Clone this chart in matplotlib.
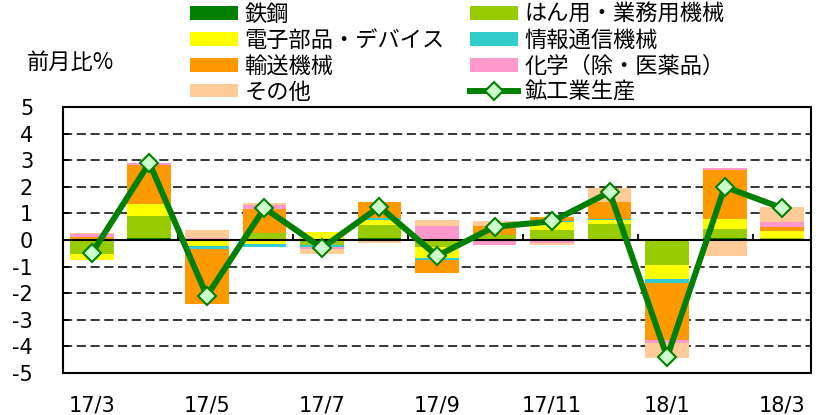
import matplotlib.pyplot as plt
import numpy as np
from matplotlib.patches import Patch
from matplotlib.lines import Line2D

plt.rcParams['font.family'] = ['Noto Sans CJK JP', 'DejaVu Sans']
plt.rcParams['axes.unicode_minus'] = False

# 月（17/3〜18/3）
months = ['17/3', '17/4', '17/5', '17/6', '17/7', '17/8', '17/9',
          '17/10', '17/11', '17/12', '18/1', '18/2', '18/3']

# 業種別寄与度（前月比%）
tekko = [0.00, 0.07, 0.00, 0.05, 0.00, 0.08, 0.00, 0.00, 0.00, 0.03, 0.00, 0.08, 0.00]
hanyo = [-0.51, 0.84, -0.03, 0.20, -0.20, 0.48, -0.25, 0.19, 0.38, 0.56, -0.95, 0.35, 0.09]
denshi = [-0.25, 0.45, -0.18, -0.15, 0.31, 0.18, -0.41, 0.00, 0.30, 0.15, -0.50, 0.37, 0.25]
joho = [0.05, 0.00, -0.14, -0.10, -0.05, 0.07, -0.09, 0.00, 0.05, 0.06, -0.15, 0.00, 0.00]
yuso = [0.06, 1.47, -2.06, 0.90, 0.00, 0.63, -0.50, 0.34, 0.13, 0.63, -2.17, 1.82, 0.13]
kagaku = [0.10, 0.08, 0.08, 0.18, -0.08, 0.00, 0.53, -0.19, -0.10, 0.00, -0.09, 0.10, 0.21]
sonota = [0.04, 0.00, 0.28, 0.05, -0.20, -0.10, 0.21, 0.19, -0.09, 0.51, -0.56, -0.60, 0.56]

# 鉱工業生産（前月比%）
kokogyo = [-0.5, 2.9, -2.1, 1.2, -0.3, 1.25, -0.6, 0.5, 0.7, 1.8, -4.4, 2.0, 1.2]

series = [
    ('鉄鋼', tekko, '#008000'),
    ('はん用・業務用機械', hanyo, '#99CC00'),
    ('電子部品・デバイス', denshi, '#FFFF00'),
    ('情報通信機械', joho, '#33CCCC'),
    ('輸送機械', yuso, '#FF9900'),
    ('化学（除・医薬品）', kagaku, '#FF99CC'),
    ('その他', sonota, '#FFCC99'),
]

fig = plt.figure(figsize=(8.22, 4.15), dpi=100)
ax = fig.add_axes([63 / 822, 42 / 415, 748 / 822, 266 / 415])

x = np.arange(len(months))
pos_base = np.zeros(len(months))
neg_base = np.zeros(len(months))
for name, vals, col in series:
    v = np.array(vals)
    pos = np.where(v > 0, v, 0)
    neg = np.where(v < 0, v, 0)
    ax.bar(x, pos, bottom=pos_base, width=0.76, color=col, edgecolor='none', zorder=2)
    ax.bar(x, neg, bottom=neg_base, width=0.76, color=col, edgecolor='none', zorder=2)
    pos_base += pos
    neg_base += neg

ax.plot(x, kokogyo, color='#008000', lw=4.3, marker='D', ms=9,
        mfc='#CCFFCC', mec='#008000', mew=1.5, zorder=4)

ax.set_xlim(-0.5, len(months) - 0.5)
ax.set_ylim(-5, 5)
ax.set_yticks(range(-5, 6))
ax.set_yticklabels([str(i) for i in range(-5, 6)], fontsize=15, family='DejaVu Sans')
ax.tick_params(axis='y', direction='in', length=4, width=1.2, pad=21.5)

for yy in range(-4, 5):
    if yy != 0:
        ax.axhline(yy, color='black', lw=1.1, ls=(0, (6, 3)), zorder=1)
ax.axhline(0, color='black', lw=1.5, zorder=3)

# 目盛り（0の線上、2か月ごと）
bounds = np.arange(1.5, len(months) - 0.5, 2)
ax.vlines(bounds, 0, 0.22, color='black', lw=1.3, zorder=3)

ax.set_xticks(x[::2])
ax.set_xticklabels(months[::2], fontsize=15, family='DejaVu Sans')
ax.tick_params(axis='x', length=0, pad=16)

for sp in ax.spines.values():
    sp.set_linewidth(1.5)
    sp.set_color('black')

fig.text(27 / 822, 1 - 62 / 415, '前月比%', fontsize=16, va='center', ha='left')

h = {name: Patch(facecolor=col, edgecolor='none') for name, _, col in series}
line_h = Line2D([0], [0], color='#008000', lw=4.3, marker='D', ms=9,
                mfc='#CCFFCC', mec='#008000', mew=1.5)
order = ['鉄鋼', '電子部品・デバイス', '輸送機械', 'その他',
         'はん用・業務用機械', '情報通信機械', '化学（除・医薬品）']
handles = [h[n] for n in order] + [line_h]
labels = order + ['鉱工業生産']
fig.legend(handles, labels, loc='upper left', bbox_to_anchor=(190 / 822, 1 - 3 / 415),
           ncol=2, frameon=False, fontsize=16, handlelength=2.15, handleheight=0.55,
           handletextpad=0.3, columnspacing=1.15, labelspacing=0.13, borderpad=0,
           borderaxespad=0)

fig.savefig('out.png', dpi=100)
